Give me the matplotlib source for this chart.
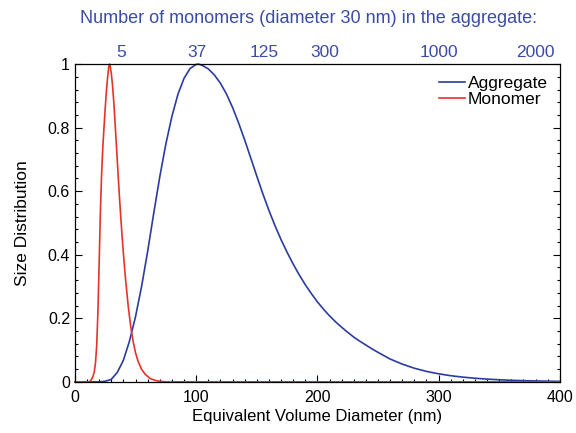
import numpy as np
import matplotlib
matplotlib.use("Agg")
import matplotlib.pyplot as plt
from matplotlib.ticker import MultipleLocator

plt.rcParams["font.family"] = ["Liberation Sans", "DejaVu Sans"]

# Aggregate size distribution (diameter in nm, normalised to peak)
agg_d = [0, 10, 20, 25, 30, 35, 40, 45, 50, 55, 60, 65, 70, 75, 80, 85, 90, 95,
         100, 102, 105, 110, 115, 120, 125, 130, 135, 140, 145, 150, 155, 160,
         165, 170, 175, 180, 185, 190, 195, 200, 205, 210, 215, 220, 225, 230,
         235, 240, 245, 250, 260, 270, 280, 290, 300, 310, 320, 330, 340, 350,
         360, 370, 380, 390, 400]
agg_y = [0, 0, 0.0, 0.002, 0.008, 0.03, 0.068, 0.128, 0.205, 0.3, 0.41, 0.53,
         0.645, 0.748, 0.835, 0.905, 0.955, 0.986, 0.999, 1.0, 0.996, 0.985,
         0.966, 0.94, 0.906, 0.864, 0.815, 0.762, 0.705, 0.648, 0.592, 0.54,
         0.492, 0.448, 0.408, 0.371, 0.337, 0.306, 0.278, 0.252, 0.229, 0.208,
         0.189, 0.172, 0.156, 0.141, 0.128, 0.116, 0.104, 0.093, 0.072, 0.056,
         0.043, 0.033, 0.0255, 0.0195, 0.015, 0.0115, 0.0088, 0.0067, 0.0051,
         0.0039, 0.003, 0.0023, 0.0018]

# Monomer size distribution
mono_d = [0, 11, 12, 13, 14, 15, 16, 17, 18, 19, 20, 21, 22, 23, 24, 25, 26,
          27, 28, 28.5, 29, 30, 31, 32, 33, 34, 35, 36, 37, 38, 39, 40, 41, 42,
          44, 46, 48, 50, 52, 55, 58, 62, 66, 70, 75, 400]
mono_y = [0, 0, 0.001, 0.004, 0.01, 0.018, 0.032, 0.06, 0.115, 0.22, 0.37,
          0.53, 0.65, 0.735, 0.8, 0.86, 0.915, 0.958, 0.993, 1.0, 0.996, 0.972,
          0.935, 0.885, 0.825, 0.76, 0.695, 0.63, 0.568, 0.51, 0.455, 0.405,
          0.358, 0.315, 0.238, 0.176, 0.128, 0.092, 0.066, 0.04, 0.024, 0.011,
          0.005, 0.002, 0, 0]

# number of monomers shown on the top axis, at their diameter in nm
top_labels = ["5", "37", "125", "300", "1000", "2000"]
top_pos_nm = [38, 101, 156, 206, 300, 380]

BLUE = "#2b3c9e"
RED = "#e5332a"
TEXT_BLUE = "#3a4ca6"

fig = plt.figure(figsize=(5.76, 4.33), dpi=100)
ax = fig.add_axes([0.130, 0.118, 0.842, 0.734])

ax.plot(agg_d, agg_y, color=BLUE, lw=1.2, label="Aggregate", clip_on=False)
ax.plot(mono_d, mono_y, color=RED, lw=1.2, label="Monomer", clip_on=False)

ax.set_xlim(0, 400)
ax.set_ylim(0, 1)
ax.xaxis.set_major_locator(MultipleLocator(100))
ax.xaxis.set_minor_locator(MultipleLocator(10))
ax.yaxis.set_major_locator(MultipleLocator(0.2))
ax.yaxis.set_minor_locator(MultipleLocator(0.04))
ax.set_yticks([0, 0.2, 0.4, 0.6, 0.8, 1.0])
ax.set_yticklabels(["0", "0.2", "0.4", "0.6", "0.8", "1"])
ax.tick_params(which="both", direction="in", top=True, right=True,
               labelsize=11.5, width=0.8)
ax.tick_params(axis="x", pad=6)
ax.tick_params(which="major", length=5)
ax.tick_params(which="minor", length=2.5)
for s in ax.spines.values():
    s.set_linewidth(0.9)

ax.set_xlabel("Equivalent Volume Diameter (nm)", fontsize=12, labelpad=3)
ax.set_ylabel("Size Distribution", fontsize=12.5, labelpad=13)

ax.legend(loc="upper right", bbox_to_anchor=(0.99, 0.985), frameon=False,
          fontsize=12.5, handlelength=1.5, handletextpad=0.15,
          labelspacing=0.05, borderaxespad=0.0)

top = ax.twiny()
top.set_xlim(ax.get_xlim())
top.set_xticks(top_pos_nm)
top.set_xticklabels(top_labels)
top.tick_params(axis="x", length=0, labelsize=12.5, labelcolor=TEXT_BLUE, pad=3)
for s in top.spines.values():
    s.set_visible(False)

fig.text(0.536, 0.958, "Number of monomers (diameter 30 nm) in the aggregate:",
         ha="center", va="center", fontsize=13, color=TEXT_BLUE)

fig.savefig("out.png", dpi=100)
